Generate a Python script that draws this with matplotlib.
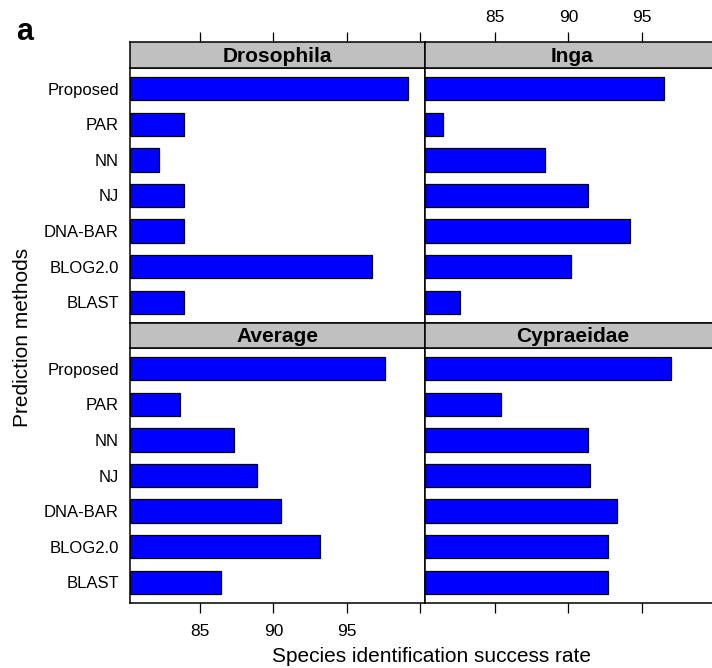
import matplotlib
matplotlib.use('Agg')
import matplotlib.pyplot as plt
import numpy as np

plt.rcParams['font.family'] = ['Liberation Sans', 'DejaVu Sans']

# Data
methods = ['Proposed', 'PAR', 'NN', 'NJ', 'DNA-BAR', 'BLOG2.0', 'BLAST']
drosophila = [99.2, 83.9, 82.2, 83.9, 83.9, 96.7, 83.9]
inga = [96.5, 81.4, 88.4, 91.3, 94.2, 90.2, 82.6]
average = [97.6, 83.6, 87.3, 88.9, 90.5, 93.2, 86.4]
cypraeidae = [97.0, 85.4, 91.3, 91.5, 93.3, 92.7, 92.7]

panel_titles = ['Drosophila', 'Inga', 'Average', 'Cypraeidae']
tick_values = [85, 90, 95, 100]
tick_labels = ['85', '90', '95', '']

W, H = 712, 668
x_min, x_max = 80.2, 100.35


def px_rect(left, top, right, bottom):
    # convert pixel box to figure fraction [l, b, w, h]
    return [left / W, 1 - bottom / H, (right - left) / W, (bottom - top) / H]


fig = plt.figure(figsize=(W / 100, H / 100), dpi=100)

cols = [(130, 425), (425, 720)]
rows = [(42, 68, 323), (323, 348, 603)]  # strip top, data top, data bottom
panels = [(0, 0, drosophila), (0, 1, inga), (1, 0, average), (1, 1, cypraeidae)]

y_pos = np.arange(len(methods))

for k, (r, c, values) in enumerate(panels):
    left, right = cols[c]
    s_top, d_top, d_bot = rows[r]

    # data panel
    ax = fig.add_axes(px_rect(left, d_top, right, d_bot))
    ax.barh(y_pos, np.array(values) - x_min, left=x_min, height=0.65,
            color='#0000FF', edgecolor='black', linewidth=0.9)
    ax.set_xlim(x_min, x_max)
    ax.set_ylim(len(methods) - 1 + 0.59, -0.59)
    for sp in ax.spines.values():
        sp.set_linewidth(1.1)

    if c == 0:
        ax.set_yticks(y_pos)
        ax.set_yticklabels(methods, fontsize=12)
        ax.tick_params(axis='y', length=0, pad=8)
    else:
        ax.set_yticks([])

    if r == 1:
        ax.set_xticks(tick_values)
        if c == 0:
            ax.set_xticklabels(tick_labels, fontsize=12.5)
        else:
            ax.set_xticklabels([])
        ax.tick_params(axis='x', direction='out', length=7, width=0.9, pad=8)
    else:
        ax.set_xticks([])

    # strip with panel name
    st = fig.add_axes(px_rect(left, s_top, right, d_top))
    st.set_facecolor('#C0C0C0')
    st.set_xlim(x_min, x_max)
    st.set_yticks([])
    for sp in st.spines.values():
        sp.set_linewidth(1.1)
    st.text(0.5, 0.45, panel_titles[k], transform=st.transAxes,
            ha='center', va='center', fontsize=15, fontweight='bold')
    if r == 0:
        st.xaxis.tick_top()
        st.set_xticks(tick_values)
        if c == 1:
            st.set_xticklabels(tick_labels, fontsize=12.5)
        else:
            st.set_xticklabels([])
        st.tick_params(axis='x', direction='out', length=7, width=0.9, pad=5)
    else:
        st.set_xticks([])

fig.text(431 / W, 1 - 657 / H, 'Species identification success rate',
         ha='center', va='center', fontsize=15)
fig.text(23 / W, 1 - 337 / H, 'Prediction methods', rotation=90,
         ha='center', va='center', fontsize=15)
fig.text(25 / W, 1 - 32 / H, 'a', ha='center', va='center',
         fontsize=22, fontweight='bold')

fig.savefig('out.png', dpi=100)
